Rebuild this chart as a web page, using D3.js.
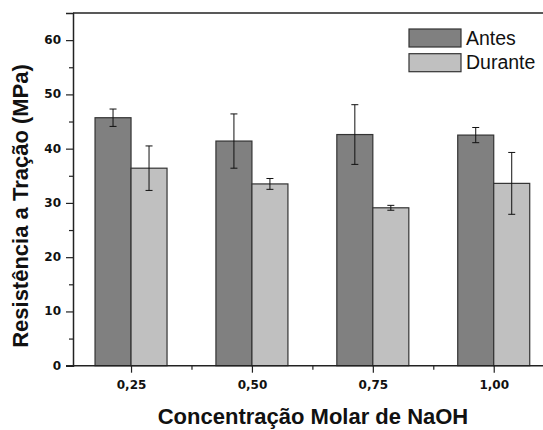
<!DOCTYPE html>
<html>
<head>
<meta charset="utf-8">
<script src="https://cdn.jsdelivr.net/npm/d3@7"></script>
<style>
  html, body { margin: 0; padding: 0; background: #fff; overflow: hidden; }
  svg { display: block; }
</style>
</head>
<body>
<svg id="chart" width="543" height="430"></svg>
<script>
// ---- data ----
const categories = [0.25, 0.50, 0.75, 1.00];
const categoryLabels = ["0,25", "0,50", "0,75", "1,00"];
const antes = [45.7, 41.4, 42.6, 42.5];
const antesErr = [1.6, 5.0, 5.5, 1.4];
const durante = [36.4, 33.5, 29.1, 33.6];
const duranteErr = [4.1, 1.0, 0.45, 5.7];
const seriesNames = ["Antes", "Durante"];
const yMajorTicks = [0, 10, 20, 30, 40, 50, 60];
const yMinorTicks = [5, 15, 25, 35, 45, 55];
const xMinorTicks = [0.375, 0.625, 0.875];

// ---- layout ----
const svg = d3.select("#chart");
const plotLeft = 73, plotTop = 13, plotBottom = 365.7;
const pxPerUnit = 483.6; // px per 1.0 mol/L
const xDomain = [0.13, 1.12];
const x = d3.scaleLinear().domain(xDomain)
  .range([plotLeft, plotLeft + (xDomain[1] - xDomain[0]) * pxPerUnit]);
const y = d3.scaleLinear().domain([0, 65]).range([plotBottom, plotTop]);
const barW = 36;
const colors = ["#808080", "#c0c0c0"];
const axisColor = "#222";

// ---- bars ----
const series = [
  { name: seriesNames[0], vals: antes, errs: antesErr, off: -barW, color: colors[0] },
  { name: seriesNames[1], vals: durante, errs: duranteErr, off: 0, color: colors[1] }
];
const gBars = svg.append("g");
series.forEach(s => {
  categories.forEach((c, i) => {
    gBars.append("rect")
      .attr("x", x(c) + s.off)
      .attr("y", y(s.vals[i]))
      .attr("width", barW)
      .attr("height", y(0) - y(s.vals[i]))
      .attr("fill", s.color)
      .attr("stroke", "#333")
      .attr("stroke-width", 1.2);
  });
});
// error bars
series.forEach(s => {
  categories.forEach((c, i) => {
    const cx = x(c) + s.off + barW / 2;
    const hi = y(s.vals[i] + s.errs[i]), lo = y(s.vals[i] - s.errs[i]);
    const g = gBars.append("g").attr("stroke", "#111").attr("stroke-width", 1);
    g.append("line").attr("x1", cx).attr("x2", cx).attr("y1", hi).attr("y2", lo);
    g.append("line").attr("x1", cx - 3.5).attr("x2", cx + 3.5).attr("y1", hi).attr("y2", hi);
    g.append("line").attr("x1", cx - 3.5).attr("x2", cx + 3.5).attr("y1", lo).attr("y2", lo);
  });
});

// ---- axes ----
const yAxis = d3.axisLeft(y).tickValues(yMajorTicks).tickSize(7).tickPadding(5)
  .tickFormat(d3.format("d"));
const gy = svg.append("g").attr("transform", `translate(${plotLeft},0)`).call(yAxis);
gy.select(".domain").attr("stroke", axisColor).attr("stroke-width", 1.5);
gy.selectAll(".tick line").attr("stroke", axisColor).attr("stroke-width", 1.2);
gy.selectAll(".tick text")
  .attr("font-family", "'DejaVu Sans', Verdana, sans-serif")
  .attr("font-weight", "bold").attr("font-size", 12).attr("fill", "#111")
  .attr("dy", "0.28em");
const gy2 = svg.append("g").attr("transform", `translate(${plotLeft},0)`)
  .call(d3.axisLeft(y).tickValues(yMinorTicks).tickSize(4).tickFormat(""));
gy2.select(".domain").remove();
gy2.selectAll(".tick line").attr("stroke", axisColor).attr("stroke-width", 1.2);

const xAxis = d3.axisBottom(x).tickValues(categories).tickSize(7).tickPadding(8)
  .tickFormat((d, i) => categoryLabels[i]);
const gx = svg.append("g").attr("transform", `translate(0,${plotBottom})`).call(xAxis);
gx.select(".domain").attr("stroke", axisColor).attr("stroke-width", 1.5)
  .attr("d", `M${plotLeft - 7},0H${x(xDomain[1])}`);
gx.selectAll(".tick line").attr("stroke", axisColor).attr("stroke-width", 1.2);
gx.selectAll(".tick text")
  .attr("font-family", "'DejaVu Sans', Verdana, sans-serif")
  .attr("font-weight", "bold").attr("font-size", 12).attr("fill", "#111");
const gx2 = svg.append("g").attr("transform", `translate(0,${plotBottom})`)
  .call(d3.axisBottom(x).tickValues(xMinorTicks).tickSize(4).tickFormat(""));
gx2.select(".domain").remove();
gx2.selectAll(".tick line").attr("stroke", axisColor).attr("stroke-width", 1.2);

// top frame line
svg.append("line")
  .attr("x1", plotLeft).attr("x2", x(xDomain[1]))
  .attr("y1", y(65)).attr("y2", y(65))
  .attr("stroke", axisColor).attr("stroke-width", 1.5);

// ---- axis titles ----
svg.append("text")
  .attr("x", 313).attr("y", 424)
  .attr("text-anchor", "middle")
  .attr("font-family", "'Liberation Sans', Arial, sans-serif")
  .attr("font-weight", "bold").attr("font-size", 22).attr("fill", "#111")
  .text("Concentração Molar de NaOH");
svg.append("text")
  .attr("transform", "translate(28,206) rotate(-90)")
  .attr("text-anchor", "middle")
  .attr("font-family", "'Liberation Sans', Arial, sans-serif")
  .attr("font-weight", "bold").attr("font-size", 22).attr("fill", "#111")
  .text("Resistência a Tração (MPa)");

// ---- legend ----
const legend = svg.append("g").attr("transform", "translate(409,29)");
series.forEach((s, i) => {
  const ly = i * 24.7;
  legend.append("rect")
    .attr("x", 0).attr("y", ly).attr("width", 52).attr("height", 18)
    .attr("fill", s.color).attr("stroke", "#333").attr("stroke-width", 1.2);
  legend.append("text")
    .attr("x", 57).attr("y", ly + 15.5)
    .attr("font-family", "'Liberation Sans', Arial, sans-serif")
    .attr("font-size", 19.5).attr("fill", "#111")
    .text(s.name);
});
</script>
</body>
</html>
